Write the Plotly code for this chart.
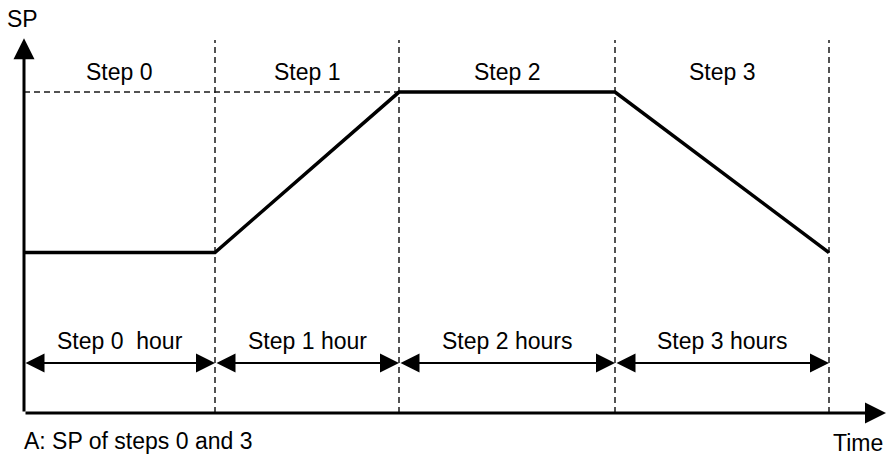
import numpy as np
import plotly.graph_objects as go

# Program steps (durations, arbitrary time units)
step_names = ["Step 0", "Step 1", "Step 2", "Step 3"]
duration_labels = ["Step 0  hour", "Step 1 hour", "Step 2 hours", "Step 3 hours"]
step_durations = [19.1, 18.4, 21.6, 21.4]
sp_start = [5.0, 5.0, 10.0, 10.0]
sp_end = [5.0, 10.0, 10.0, 5.0]

FONT = "Liberation Sans, Arial, Helvetica, sans-serif"
FS = 23

bounds = np.concatenate([[0], np.cumsum(step_durations)])
t_start = bounds[:-1]
t_end = bounds[1:]
mids = (t_start + t_end) / 2

# profile line
prof_t = [t_start[0]] + list(t_end)
prof_sp = [sp_start[0]] + list(sp_end)

top = 11.62     # top of the dashed step separators
arrow_y = 1.56  # level of the duration arrows

fig = go.Figure()

# dashed step separators
vx, vy = [], []
for t in bounds[1:]:
    vx += [t, t, None]
    vy += [0, top, None]
# dashed level of the high SP
vx += [0, t_end[1], None]
vy += [max(sp_end), max(sp_end), None]
fig.add_trace(go.Scatter(x=vx, y=vy, mode="lines",
                         line=dict(color="#1a1a1a", width=1.5, dash="6px,4px"),
                         hoverinfo="skip"))

# SP profile
fig.add_trace(go.Scatter(x=prof_t, y=prof_sp, mode="lines",
                         line=dict(color="black", width=3.5),
                         hoverinfo="skip"))

ann = []
# axes with arrows
ann.append(dict(x=86.2, y=0, ax=0, ay=0, xref="x", yref="y", axref="x", ayref="y",
                text="", showarrow=True, arrowhead=2, arrowsize=1.4, arrowwidth=3,
                arrowcolor="black", standoff=0))
ann.append(dict(x=0, y=11.68, ax=0, ay=0, xref="x", yref="y", axref="x", ayref="y",
                text="", showarrow=True, arrowhead=2, arrowsize=1.4, arrowwidth=3,
                arrowcolor="black", standoff=0))

# step names and duration arrows
for i in range(len(step_names)):
    ann.append(dict(x=mids[i], y=10.62, xref="x", yref="y", text=step_names[i],
                    showarrow=False, font=dict(family=FONT, size=FS, color="black")))
    ann.append(dict(x=mids[i], y=2.24, xref="x", yref="y", text=duration_labels[i],
                    showarrow=False, font=dict(family=FONT, size=FS, color="black")))
    ann.append(dict(x=t_end[i], y=arrow_y, ax=t_start[i], ay=arrow_y,
                    xref="x", yref="y", axref="x", ayref="y", text="",
                    showarrow=True, arrowside="end+start", arrowhead=2,
                    arrowsize=1.9, arrowwidth=2, arrowcolor="black",
                    standoff=0, startstandoff=0))

ann.append(dict(x=-0.2, y=12.27, xref="x", yref="y", text="SP", showarrow=False,
                xanchor="center", font=dict(family=FONT, size=FS, color="black")))
ann.append(dict(x=-0.2, y=-0.87, xref="x", yref="y", text="A: SP of steps 0 and 3",
                showarrow=False, xanchor="left",
                font=dict(family=FONT, size=FS, color="black")))
ann.append(dict(x=86.1, y=-0.93, xref="x", yref="y", text="Time", showarrow=False,
                xanchor="right", font=dict(family=FONT, size=FS, color="black")))

fig.update_layout(
    width=887, height=456,
    margin=dict(l=0, r=0, t=0, b=0),
    paper_bgcolor="white", plot_bgcolor="white",
    showlegend=False,
    annotations=ann,
)
fig.update_xaxes(range=[-2.4, 86.3], visible=False)
fig.update_yaxes(range=[-1.34, 12.87], visible=False)

fig.write_html("out.html", config={"displayModeBar": False},
               post_script="document.body.style.margin='0';")
